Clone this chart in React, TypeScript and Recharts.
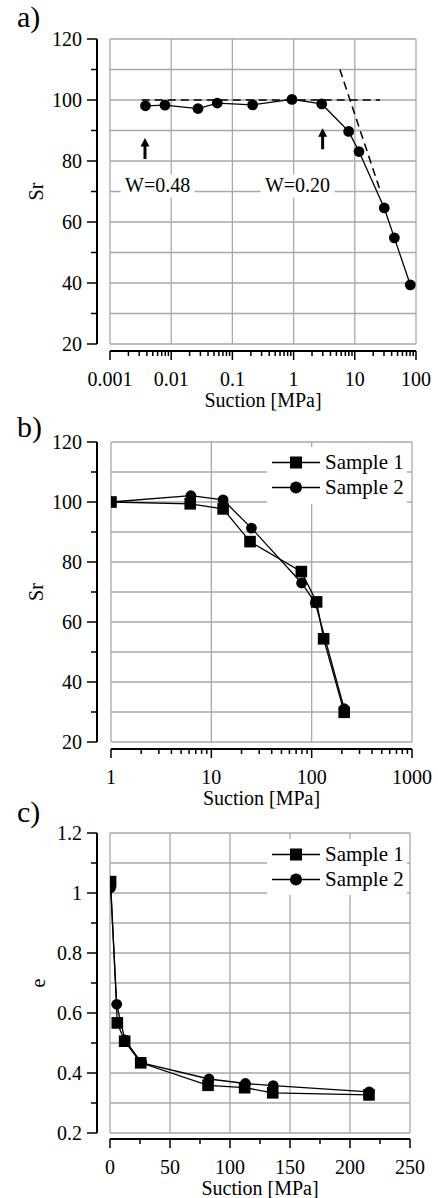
import React from "react";
import {
  LineChart,
  Line,
  XAxis,
  YAxis,
  CartesianGrid,
  ReferenceLine,
  ReferenceDot,
  Legend,
} from "recharts";

const FONT = "Liberation Serif, DejaVu Serif, Noto Serif, serif";
const FS = 20;
const GRID = "#a9a9a9";
const TICK_SIZE = 10;
const X_TICK_GAP = 11;
const Y_TICK_GAP = 5;
const AXIS = { stroke: "#000", strokeWidth: 2 };

// a) Sr vs suction (log)
const suctionA = [0.0038, 0.0079, 0.0274, 0.0566, 0.214, 0.94, 2.88, 7.94, 11.7, 30.3, 44.3, 80.7];
const srA = [98.1, 98.3, 97.2, 99.0, 98.4, 100.2, 98.7, 89.7, 83.1, 64.6, 54.8, 39.4];
const dashesA = [
  [{ x: 0.0033, y: 100 }, { x: 25.8, y: 100 }],
  [{ x: 5.7, y: 110 }, { x: 25.8, y: 70.5 }],
];
const notesA = [
  { text: "W=0.48", x: 0.006, y: 70 },
  { text: "W=0.20", x: 1.16, y: 70 },
];
const arrowsA = [
  { x: 0.00373, y: 84.1 },
  { x: 2.98, y: 87.3 },
];

// b) Sr vs suction (log), two samples
const suctionB1 = [1, 6.16, 13.1, 24.3, 78.9, 112, 131.6, 211];
const srB1 = [100, 99.4, 97.7, 86.8, 76.8, 66.7, 54.4, 29.9];
const suctionB2 = [1, 6.25, 13.1, 25.1, 79.4, 108.7, 211];
const srB2 = [100, 102.1, 100.7, 91.3, 73, 66.4, 31.1];

// c) void ratio vs suction (linear), two samples
const suctionC1 = [0.5, 6.1, 12.2, 25.6, 81.7, 112.2, 135.6, 215.8];
const eC1 = [1.038, 0.567, 0.506, 0.434, 0.359, 0.351, 0.334, 0.327];
const suctionC2 = [0.5, 5.6, 12.4, 26.4, 82.5, 112.8, 136, 216];
const eC2 = [1.018, 0.629, 0.51, 0.434, 0.38, 0.365, 0.358, 0.337];

// ticks
const decadesA = [0.001, 0.01, 0.1, 1, 10, 100];
const decadesB = [1, 10, 100, 1000];
const logTicks = (decs: number[]) => [
  ...decs,
  ...decs.slice(0, -1).flatMap((d) => [2, 3, 4, 5, 6, 7, 8, 9].map((m) => m * d)),
].sort((a, b) => a - b);
const srTicks = [20, 30, 40, 50, 60, 70, 80, 90, 100, 110, 120];
const srMajor = [20, 40, 60, 80, 100, 120];
const sucTicksC = [0, 25, 50, 75, 100, 125, 150, 175, 200, 225, 250];
const sucMajorC = [0, 50, 100, 150, 200, 250];
const eTicks = [0.2, 0.3, 0.4, 0.5, 0.6, 0.7, 0.8, 0.9, 1, 1.1, 1.2];
const eMajor = [0.2, 0.4, 0.6, 0.8, 1, 1.2];

const toPts = (xs: number[], ys: number[]) => xs.map((x, i) => ({ x, y: ys[i] }));

const bottomTick = (majors: number[]) => (p: any) => {
  const v = p.payload.value;
  const major = majors.includes(v);
  const axisY = p.y - TICK_SIZE - X_TICK_GAP;
  return (
    <g>
      <line x1={p.x} x2={p.x} y1={axisY} y2={axisY + (major ? 9 : 5)} stroke="#000" strokeWidth={1.5} />
      {major ? (
        <text x={p.x} y={p.y} dy="0.71em" textAnchor="middle" style={{ fontFamily: FONT, fontSize: FS }} fill="#000">
          {String(v)}
        </text>
      ) : null}
    </g>
  );
};

const leftTick = (majors: number[]) => (p: any) => {
  const v = p.payload.value;
  const major = majors.includes(v);
  const axisX = p.x + TICK_SIZE + Y_TICK_GAP;
  return (
    <g>
      <line x1={axisX - (major ? 10 : 6)} x2={axisX} y1={p.y} y2={p.y} stroke="#000" strokeWidth={1.5} />
      {major ? (
        <text x={p.x} y={p.y} dy="0.355em" textAnchor="end" style={{ fontFamily: FONT, fontSize: FS }} fill="#000">
          {String(v)}
        </text>
      ) : null}
    </g>
  );
};

const circleDot = (p: any) => (
  <circle key={`c${p.index}`} cx={p.cx} cy={p.cy} r={5.4} fill="#000" />
);
const squareDot = (p: any) => (
  <rect key={`s${p.index}`} x={p.cx - 5.8} y={p.cy - 5.8} width={11.6} height={11.6} fill="#000" />
);

const noteShape = (text: string) => (p: any) => (
  <g>
    <rect x={p.cx - 37} y={p.cy - 17} width={74} height={23} fill="#fff" />
    <text x={p.cx} y={p.cy} textAnchor="middle" style={{ fontFamily: FONT, fontSize: FS }} fill="#000">
      {text}
    </text>
  </g>
);

const arrowShape = (p: any) => (
  <g>
    <line x1={p.cx} x2={p.cx} y1={p.cy + 10.5} y2={p.cy - 3} stroke="#000" strokeWidth={3} />
    <polygon points={`${p.cx - 4.5},${p.cy - 2} ${p.cx + 4.5},${p.cy - 2} ${p.cx},${p.cy - 10.5}`} fill="#000" />
  </g>
);

const legendContent = (props: any) => {
  const items = [...(props.payload ?? [])].sort((a: any, b: any) =>
    String(a.value).localeCompare(String(b.value))
  );
  return (
    <div style={{ paddingTop: 3, paddingLeft: 4 }}>
      {items.map((it: any) => (
        <div key={it.value} style={{ display: "flex", alignItems: "center", height: 25 }}>
          <svg width={50} height={25}>
            <line x1={1} x2={49} y1={12.5} y2={12.5} stroke="#000" strokeWidth={1.3} />
            {it.type === "square" ? (
              <rect x={19} y={6.5} width={12} height={12} fill="#000" />
            ) : (
              <circle cx={25} cy={12.5} r={6} fill="#000" />
            )}
          </svg>
          <span style={{ fontFamily: FONT, fontSize: FS + 1, marginLeft: 4, lineHeight: "25px", color: "#000" }}>
            {it.value}
          </span>
        </div>
      ))}
    </div>
  );
};

const labelStyle = { fill: "#000", style: { fontFamily: FONT, fontSize: FS } };
const yLabelStyle = { fill: "#000", style: { fontFamily: FONT, fontSize: FS, textAnchor: "middle" as const } };

const panelLabel = (text: string, top: number) => (
  <div
    style={{
      position: "absolute",
      left: 17,
      top,
      fontFamily: FONT,
      fontSize: 30,
      lineHeight: 1,
      color: "#000",
    }}
  >
    {text}
  </div>
);

export default function App() {
  return (
    <div style={{ position: "absolute", left: 0, top: 0, width: 438, height: 1198, background: "#fff", fontFamily: FONT }}>
      {/* a) */}
      <div style={{ position: "absolute", left: 0, top: 0 }}>
        <LineChart width={438} height={415} margin={{ top: 39, right: 22, bottom: 0, left: 0 }}>
          <XAxis xAxisId="gap" type="number" domain={[0, 1]} height={7} axisLine={false} tickLine={false} tick={false} />
          <XAxis
            xAxisId="main"
            type="number"
            dataKey="x"
            scale="log"
            domain={[0.001, 100]}
            allowDataOverflow
            ticks={logTicks(decadesA)}
            interval={0}
            height={64}
            tickSize={TICK_SIZE}
            tickMargin={X_TICK_GAP}
            tickLine={false}
            axisLine={AXIS}
            tick={bottomTick(decadesA)}
            label={{ value: "Suction [MPa]", position: "insideBottom", offset: 8, ...labelStyle }}
          />
          <YAxis yAxisId="gap" type="number" domain={[0, 1]} width={13} axisLine={false} tickLine={false} tick={false} />
          <YAxis
            yAxisId="main"
            type="number"
            domain={[20, 120]}
            allowDataOverflow
            ticks={srTicks}
            interval={0}
            width={97}
            tickSize={TICK_SIZE}
            tickMargin={Y_TICK_GAP}
            tickLine={false}
            axisLine={AXIS}
            tick={leftTick(srMajor)}
            label={{ value: "Sr", angle: -90, position: "insideLeft", offset: 36, ...yLabelStyle }}
          />
          <CartesianGrid xAxisId="main" yAxisId="main" stroke={GRID} strokeWidth={1.3} verticalValues={decadesA} />
          {notesA.map((n) => (
            <ReferenceDot key={n.text} xAxisId="main" yAxisId="main" x={n.x} y={n.y} r={1} shape={noteShape(n.text)} />
          ))}
          {dashesA.map((seg, i) => (
            <ReferenceLine
              key={`d${i}`}
              xAxisId="main"
              yAxisId="main"
              segment={seg}
              stroke="#000"
              strokeWidth={1.5}
              strokeDasharray="8 5"
            />
          ))}
          <Line
            xAxisId="main"
            yAxisId="main"
            data={toPts(suctionA, srA)}
            dataKey="y"
            stroke="#000"
            strokeWidth={1.3}
            dot={circleDot}
            isAnimationActive={false}
          />
          {arrowsA.map((a, i) => (
            <ReferenceDot key={`a${i}`} xAxisId="main" yAxisId="main" x={a.x} y={a.y} r={1} shape={arrowShape} />
          ))}
        </LineChart>
      </div>

      {/* b) */}
      <div style={{ position: "absolute", left: 0, top: 415 }}>
        <LineChart width={438} height={395} margin={{ top: 27, right: 26, bottom: 0, left: 0 }}>
          <XAxis xAxisId="gap" type="number" domain={[0, 1]} height={7} axisLine={false} tickLine={false} tick={false} />
          <XAxis
            xAxisId="main"
            type="number"
            dataKey="x"
            scale="log"
            domain={[1, 1000]}
            allowDataOverflow
            ticks={logTicks(decadesB)}
            interval={0}
            height={61}
            tickSize={TICK_SIZE}
            tickMargin={X_TICK_GAP}
            tickLine={false}
            axisLine={AXIS}
            tick={bottomTick(decadesB)}
            label={{ value: "Suction [MPa]", position: "insideBottom", offset: 5, ...labelStyle }}
          />
          <YAxis yAxisId="gap" type="number" domain={[0, 1]} width={14} axisLine={false} tickLine={false} tick={false} />
          <YAxis
            yAxisId="main"
            type="number"
            domain={[20, 120]}
            allowDataOverflow
            ticks={srTicks}
            interval={0}
            width={97}
            tickSize={TICK_SIZE}
            tickMargin={Y_TICK_GAP}
            tickLine={false}
            axisLine={AXIS}
            tick={leftTick(srMajor)}
            label={{ value: "Sr", angle: -90, position: "insideLeft", offset: 36, ...yLabelStyle }}
          />
          <CartesianGrid xAxisId="main" yAxisId="main" stroke={GRID} strokeWidth={1.3} verticalValues={decadesB} />
          <Line
            xAxisId="main"
            yAxisId="main"
            data={toPts(suctionB2, srB2)}
            dataKey="y"
            name="Sample 2"
            legendType="circle"
            stroke="#000"
            strokeWidth={1.3}
            dot={circleDot}
            isAnimationActive={false}
          />
          <Line
            xAxisId="main"
            yAxisId="main"
            data={toPts(suctionB1, srB1)}
            dataKey="y"
            name="Sample 1"
            legendType="square"
            stroke="#000"
            strokeWidth={1.3}
            dot={squareDot}
            isAnimationActive={false}
          />
          <Legend
            layout="horizontal"
            align="center"
            verticalAlign="middle"
            content={legendContent}
            wrapperStyle={{ left: 267, top: 32, width: 140, height: 57, background: "#fff" }}
          />
        </LineChart>
      </div>

      {/* c) */}
      <div style={{ position: "absolute", left: 0, top: 805 }}>
        <LineChart width={438} height={393} margin={{ top: 28, right: 28, bottom: 0, left: 0 }}>
          <XAxis xAxisId="gap" type="number" domain={[0, 1]} height={6} axisLine={false} tickLine={false} tick={false} />
          <XAxis
            xAxisId="main"
            type="number"
            dataKey="x"
            domain={[0, 250]}
            allowDataOverflow
            ticks={sucTicksC}
            interval={0}
            height={59}
            tickSize={TICK_SIZE}
            tickMargin={X_TICK_GAP}
            tickLine={false}
            axisLine={AXIS}
            tick={bottomTick(sucMajorC)}
            label={{ value: "Suction [MPa]", position: "insideBottom", offset: 3.5, ...labelStyle }}
          />
          <YAxis yAxisId="gap" type="number" domain={[0, 1]} width={13} axisLine={false} tickLine={false} tick={false} />
          <YAxis
            yAxisId="main"
            type="number"
            domain={[0.2, 1.2]}
            allowDataOverflow
            ticks={eTicks}
            interval={0}
            width={97}
            tickSize={TICK_SIZE}
            tickMargin={Y_TICK_GAP}
            tickLine={false}
            axisLine={AXIS}
            tick={leftTick(eMajor)}
            label={{ value: "e", angle: -90, position: "insideLeft", offset: 38, ...yLabelStyle }}
          />
          <CartesianGrid xAxisId="main" yAxisId="main" stroke={GRID} strokeWidth={1.3} verticalValues={sucMajorC} />
          <Line
            xAxisId="main"
            yAxisId="main"
            data={toPts(suctionC2, eC2)}
            dataKey="y"
            name="Sample 2"
            legendType="circle"
            stroke="#000"
            strokeWidth={1.3}
            dot={circleDot}
            isAnimationActive={false}
          />
          <Line
            xAxisId="main"
            yAxisId="main"
            data={toPts(suctionC1, eC1)}
            dataKey="y"
            name="Sample 1"
            legendType="square"
            stroke="#000"
            strokeWidth={1.3}
            dot={squareDot}
            isAnimationActive={false}
          />
          <Legend
            layout="horizontal"
            align="center"
            verticalAlign="middle"
            content={legendContent}
            wrapperStyle={{ left: 267, top: 34, width: 140, height: 56, background: "#fff" }}
          />
        </LineChart>
      </div>

      {panelLabel("a)", 2)}
      {panelLabel("b)", 412)}
      {panelLabel("c)", 797)}
    </div>
  );
}
